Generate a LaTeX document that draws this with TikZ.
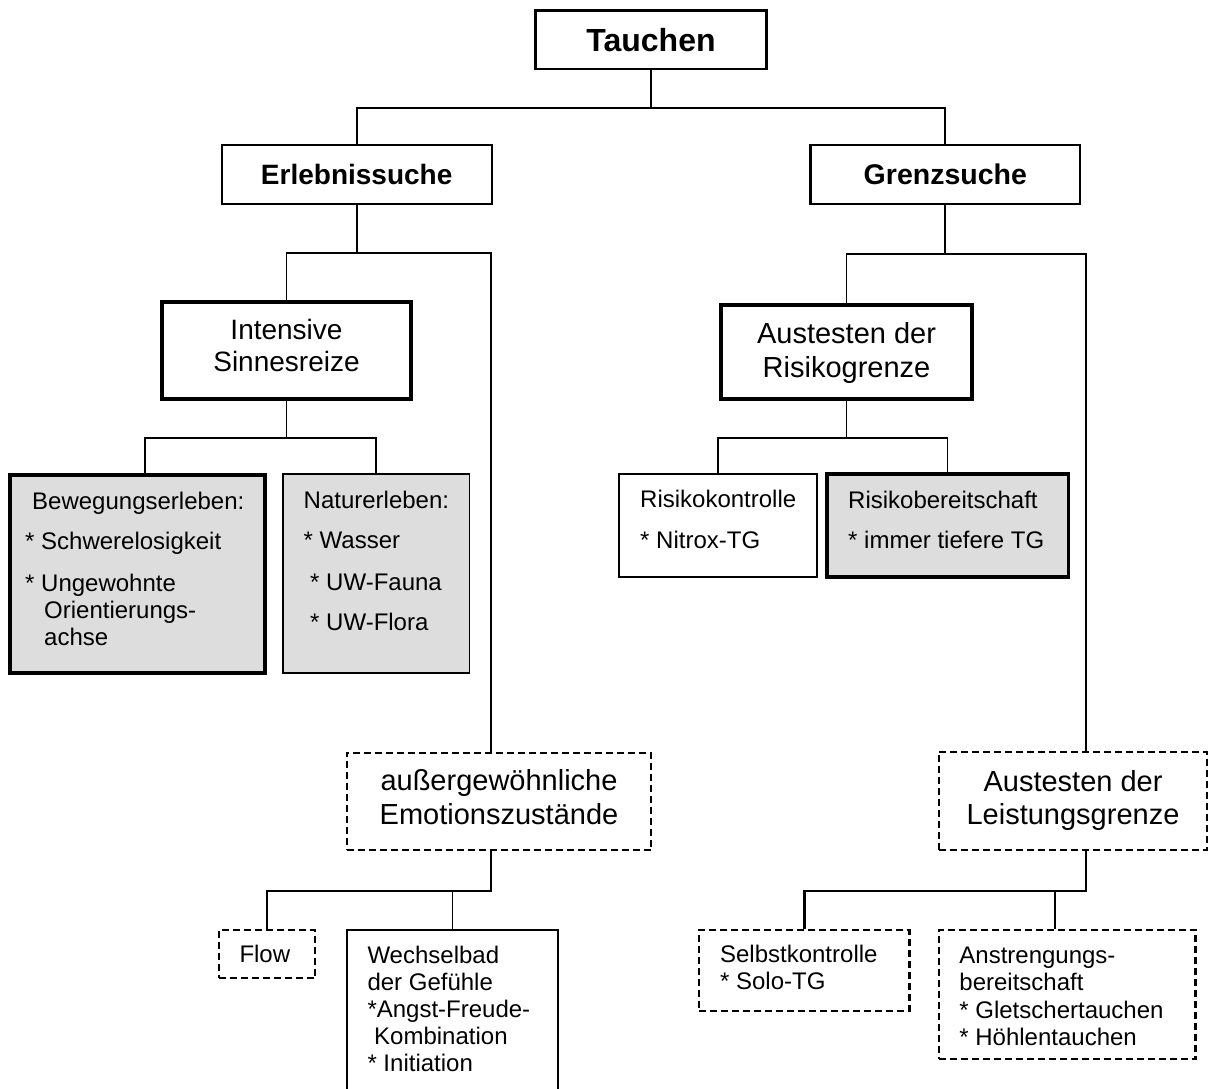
\documentclass[tikz,border=0pt]{standalone}
\usepackage{fontspec}
\setmainfont{Liberation Sans}
\usetikzlibrary{calc}
\definecolor{boxgray}{RGB}{221,221,221}
\tikzset{
  conn/.style={line width=1.7pt},
  connmid/.style={line width=2.2pt},
  connthick/.style={line width=2.7pt},
  box/.style={draw, rectangle, inner sep=0pt, line width=1.7pt},
  boxmid/.style={box, line width=2.3pt},
  boxthick/.style={box, line width=3.4pt},
  dbox/.style={box, line width=2.1pt, dash pattern=on 7pt off 4pt},
  shaded/.style={fill=boxgray},
  title/.style={font=\bfseries\fontsize{#1}{#1}\selectfont},
  % multi-line texts are placed by the baseline of their last line
  txt/.style={inner sep=0pt, anchor=base west, align=left, font=\fontsize{24}{27}\selectfont},
  ctxt/.style={inner sep=0pt, anchor=base, align=center},
}
\begin{document}
\begin{tikzpicture}[x=1pt, y=-1pt]
\clip (0,0) rectangle (1210,1088);

% ---- boxes ----
\node[boxmid, minimum width=231pt, minimum height=58.7pt, title=32] (tauchen) at (651,39.7) {Tauchen};
\node[boxmid, minimum width=270pt, minimum height=58.4pt, title=28] (erleb) at (356.7,174.5) {Erlebnissuche};
\node[boxmid, minimum width=269.5pt, minimum height=59pt, title=28.5] (grenz) at (945.3,174.5) {Grenzsuche};

\node[boxthick, minimum width=249pt, minimum height=97pt] (intens) at (286.5,350.5) {};
\node[boxthick, minimum width=251pt, minimum height=94pt] (austR) at (846.5,352) {};

\node[boxthick, shaded, minimum width=255pt, minimum height=198pt] (bew) at (137.5,574) {};
\node[box, shaded, minimum width=186.8pt, minimum height=198.4pt] (nat) at (376.2,573.5) {};
\node[box, minimum width=198pt, minimum height=103.3pt] (risk) at (718.3,525.6) {};
\node[boxthick, shaded, minimum width=241.6pt, minimum height=103pt] (rbe) at (947.6,525.5) {};

\node[dbox, minimum width=304.6pt, minimum height=97.3pt] (emo) at (499,801.3) {};
\node[dbox, minimum width=268.4pt, minimum height=98pt] (leist) at (1072.8,801) {};

\node[dbox, minimum width=96.3pt, minimum height=48.3pt] (flow) at (266.9,954.2) {};
\node[box, minimum width=210.4pt, minimum height=170pt] (wech) at (452.5,1015) {};
\node[dbox, minimum width=210.2pt, minimum height=80.7pt] (selb) at (804.4,970.4) {};
\node[dbox, minimum width=256.9pt, minimum height=129.3pt] (anst) at (1067,994.7) {};

% ---- texts ----
\node[ctxt, font=\fontsize{28}{32.4}\selectfont] (intensT) at (286.5,371.7) {Intensive\\Sinnesreize};
\node[ctxt, font=\fontsize{29}{34}\selectfont] (austRT) at (846.5,377.3) {Austesten der\\Risikogrenze};
\node[txt] (bewT) at (25,645) {\hspace*{7pt}Bewegungserleben:\\[13.2pt]* Schwerelosigkeit\\[14.5pt]* Ungewohnte\\\hspace*{19pt}Orientierungs-\\\hspace*{19pt}achse};
\node[txt] (natT) at (303.5,630.7) {Naturerleben:\\[13.4pt]* Wasser\\[14.3pt]\hspace*{6.5pt}* UW-Fauna\\[13.7pt]\hspace*{6.5pt}* UW-Flora};
\node[txt] (riskT) at (640,548.3) {Risikokontrolle\\[13.6pt]* Nitrox-TG};
\node[txt] (rbeT) at (848,548.7) {Risikobereitschaft\\[13pt]* immer tiefere TG};
\node[ctxt, font=\fontsize{29}{33.3}\selectfont] (emoT) at (499,824) {außergewöhnliche\\Emotionszustände};
\node[ctxt, font=\fontsize{29}{33}\selectfont] (leistT) at (1073,824) {Austesten der\\Leistungsgrenze};
\node[txt] (flowT) at (239.3,962.3) {Flow};
\node[txt] (wechT) at (367.3,1071.5) {Wechselbad\\der Gefühle\\*Angst-Freude-\\\hspace*{6.7pt}Kombination\\* Initiation};
\node[txt] (selbT) at (719.9,989.3) {Selbstkontrolle\\* Solo-TG};
\node[txt] (anstT) at (959.2,1045.7) {Anstrengungs-\\[0.5pt]bereitschaft\\[0.5pt]* Gletschertauchen\\[0.5pt]* Höhlentauchen};

% ---- attachment points off the box centres ----
\coordinate (emoIn)   at ($(emo.north west)!0.474!(emo.north east)$);
\coordinate (emoOut)  at ($(emo.south west)!0.474!(emo.south east)$);
\coordinate (leistIn) at ($(leist.north west)!0.549!(leist.north east)$);
\coordinate (leistOut)at ($(leist.south west)!0.549!(leist.south east)$);
\coordinate (bewIn)   at ($(bew.north west)!0.529!(bew.north east)$);
\coordinate (anstIn)  at ($(anst.north west)!0.453!(anst.north east)$);

% ---- connectors ----
\draw[connmid] (tauchen.south) -- ++(0,38) coordinate (jT);
\draw[conn] (erleb.north) |- (jT) -| (grenz.north);

\draw[connmid] (erleb.south) -- ++(0,48) coordinate (jE);
\draw[conn] (intens.north) |- (jE) -| (emoIn);

\draw[connmid] (grenz.south) -- ++(0,49) coordinate (jG);
\draw[conn] (austR.north) |- (jG) -| (leistIn);

\draw[conn] (intens.south) -- ++(0,37) coordinate (jI);
\draw[conn] (bewIn) |- (jI) -| (nat.north);

\draw[conn] (austR.south) -- ++(0,37) coordinate (jA);
\draw[conn] (risk.north) |- (jA) -| (rbe.north);

\draw[connthick] (emoOut) -- ++(0,40) coordinate (jM) -| (flow.north);
\draw[conn] (wech.north) -- (wech.north |- jM);

\draw[connthick] (leistOut) -- ++(0,40) coordinate (jL) -| (selb.north);
\draw[conn] (anstIn) -- (anstIn |- jL);
\end{tikzpicture}
\end{document}
